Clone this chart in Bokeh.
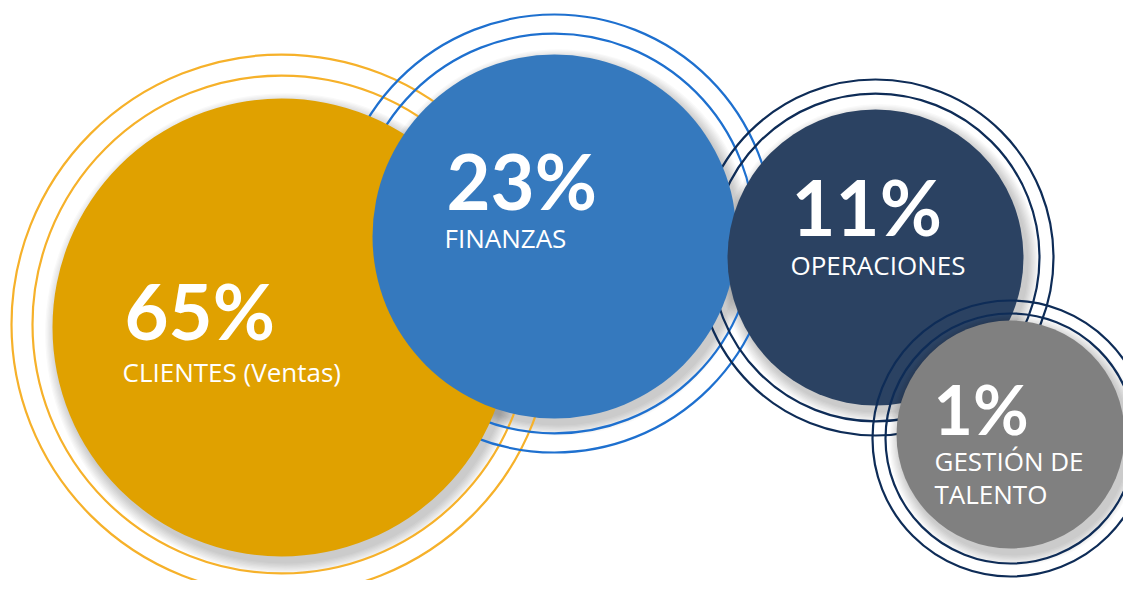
from bokeh.plotting import figure
from bokeh.models import Range1d
from bokeh.core.properties import value
from bokeh.embed import file_html
from bokeh.resources import INLINE

# ---- data ----
categories = ["CLIENTES (Ventas)", "FINANZAS", "OPERACIONES", "GESTIÓN DE\nTALENTO"]
percent = [65, 23, 11, 1]

# ---- layout (pixel space of the picture) ----
disc_x = [281, 554, 875, 1010]
disc_y = [327, 236, 257, 434]
disc_r = [229, 182, 148, 114]
ring_dy = [-3, -3, 0, 4]
ring_gap = [[20, 41], [18, 37], [16, 30], [11, 24]]
disc_colors = ["#E0A100", "#3579BE", "#2B4262", "#808080"]
ring_colors = ["#F6B12A", "#1E70CF", "#0E2C57", "#0E2C57"]
pct_pos = [(124, 342), (446, 212), (791, 238), (933, 437)]
pct_size = [76, 76, 76, 68]
lab_pos = [(122, 382), (444, 248), (790, 275), (934, 471)]
lab_size = 26
lab_lh = 33
K = 0.42  # baseline compensation

W, H = 1123, 580
p = figure(width=W, height=H, output_backend="svg", toolbar_location=None,
           x_range=Range1d(0, W), y_range=Range1d(H, 0),
           min_border=0, outline_line_color=None)
p.axis.visible = False
p.grid.visible = False
p.background_fill_color = "white"
p.border_fill_color = "white"


def shadow(i):
    for k in range(9):
        p.circle(x=disc_x[i] + 4, y=disc_y[i] + 6, radius=disc_r[i] + 1 + 1.3 * k,
                 fill_color="black", fill_alpha=0.022, line_color=None)


def rings(i):
    for g in ring_gap[i]:
        p.circle(x=disc_x[i], y=disc_y[i] + ring_dy[i], radius=disc_r[i] + g,
                 fill_color=None, line_color=ring_colors[i], line_width=2.2)


def disc(i):
    p.circle(x=disc_x[i], y=disc_y[i], radius=disc_r[i],
             fill_color=disc_colors[i], line_color=None)


for i in range(3):
    shadow(i)
for i in range(3):
    rings(i)
for i in range(3):
    disc(i)
shadow(3)
rings(3)
disc(3)

for i, cat in enumerate(categories):
    px, py = pct_pos[i]
    fs = pct_size[i]
    p.text(x=[px], y=[py - K * fs], text=[f"{percent[i]}%"], text_color="white",
           text_font=value("Lato"), text_font_style="bold",
           text_font_size=f"{fs}px", text_baseline="alphabetic", text_align="left")
    lx, ly = lab_pos[i]
    for j, line in enumerate(cat.split("\n")):
        p.text(x=[lx], y=[ly + j * lab_lh - K * lab_size], text=[line], text_color="white",
               text_font=value("Open Sans"), text_font_size=f"{lab_size}px",
               text_baseline="alphabetic", text_align="left")

open("out.html", "w").write(file_html(p, INLINE))
